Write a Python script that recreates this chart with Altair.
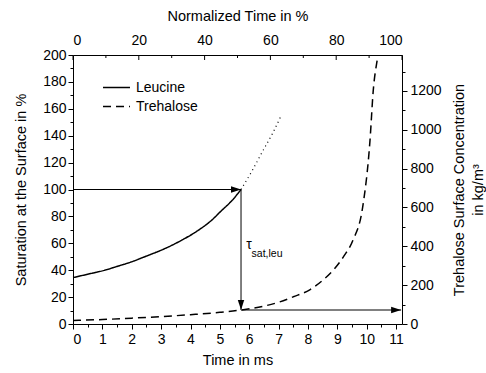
import altair as alt
import pandas as pd

FONT = "Liberation Sans"

# ---- data ----
leu_t = [0, 0.5, 1.08, 1.5, 1.99, 2.5, 3.12, 3.7, 4.26, 4.7, 5.06, 5.4, 5.72]
leu_s = [34.5, 37, 40, 42.8, 46.2, 50.5, 56, 62.3, 69.6, 76.8, 84.4, 91.5, 100]

dot_t = [5.72, 6.1, 6.47, 6.8, 7.1]
dot_s = [100, 114, 129, 142, 155.6]

tre_t = [0, 1, 2, 3, 4, 5, 5.72, 6.5, 7.04, 7.5, 8.06, 8.5, 8.86, 9.22, 9.53, 9.86, 10.11, 10.22, 10.36, 10.4]
tre_c = [18, 23, 30, 38, 48, 60, 72, 92, 114, 140, 176, 225, 277, 349, 431, 601, 944, 1200, 1363, 1400]

series_names = ["Leucine", "Trehalose"]

t_max = 11.2          # time (ms) that corresponds to 100 % normalized time
sat_max = 200
conc_max = 1385

bottom_ticks = [i * 0.5 for i in range(23)]
left_ticks = list(range(0, 201, 10))
right_ticks = list(range(0, 1301, 100))
top_major = [0, 20, 40, 60, 80, 100]
top_minor = [10, 30, 50, 70, 90]

t_sat = 5.72
sat_hi = 100
sat_lo = 10.4

tau_t = [5.9]
tau_y = [56]
sub_t = [6.08]
sub_y = [49.6]

# ---- frames ----
leu_df = pd.DataFrame({"t": leu_t, "v": leu_s, "series": series_names[0]})
dot_df = pd.DataFrame({"t": dot_t, "v": dot_s})
tre_df = pd.DataFrame({"t": tre_t, "v": tre_c, "series": series_names[1]})

xs = alt.Scale(domain=[0, t_max], nice=False, zero=False)
ys = alt.Scale(domain=[0, sat_max], nice=False)
ys2 = alt.Scale(domain=[0, conc_max], nice=False)

dash_scale = alt.Scale(domain=series_names, range=[[1, 0], [8, 5]])

x_axis = alt.Axis(
    title="Time in ms", values=bottom_ticks, labelOverlap=False,
    labelExpr="datum.value % 1 === 0 ? format(datum.value, 'd') : ''",
    tickSize={"condition": {"test": "datum.value % 1 === 0", "value": 5}, "value": 3},
    labelPadding=3, titlePadding=7, grid=False,
)
y_axis = alt.Axis(
    title="Saturation at the Surface in %", values=left_ticks, labelOverlap=False,
    labelExpr="datum.value % 20 === 0 ? datum.label : ''",
    tickSize={"condition": {"test": "datum.value % 20 === 0", "value": 5}, "value": 3},
    labelPadding=2, titlePadding=14, grid=False,
)
y2_axis = alt.Axis(
    title=["Trehalose Surface Concentration", "in kg/m³"], orient="right",
    values=right_ticks, labelOverlap=False, format="d",
    labelExpr="datum.value % 200 === 0 ? datum.label : ''",
    tickSize={"condition": {"test": "datum.value % 200 === 0", "value": 5}, "value": 3},
    labelPadding=3, titlePadding=6, titleAngle=270, titleLineHeight=19, grid=False,
)

legend = alt.Legend(
    title=None, orient="none", legendX=36, legendY=25,
    symbolType="M-2,0H2", symbolSize=182, symbolStrokeWidth=1.5,
    symbolStrokeColor="black", symbolFillColor="transparent",
    labelFontSize=14, labelFont=FONT, labelColor="black", labelOffset=12,
    rowPadding=4, padding=0,
)

NX = alt.X("x:Q", axis=None)
NY = alt.Y("y:Q", axis=None)

leu = alt.Chart(leu_df).mark_line(color="black", strokeWidth=1.5, interpolate="monotone").encode(
    x=alt.X("t:Q", scale=xs, axis=x_axis),
    y=alt.Y("v:Q", scale=ys, axis=y_axis),
    strokeDash=alt.StrokeDash("series:N", scale=dash_scale, legend=legend),
)

dot = alt.Chart(dot_df).mark_line(color="black", strokeWidth=1.2, strokeDash=[1, 3.5], interpolate="monotone").encode(
    x=alt.X("t:Q", axis=None), y=alt.Y("v:Q", axis=None)
)

h_arrow = alt.Chart(pd.DataFrame({"x": [0], "x2": [t_sat], "y": [sat_hi]})).mark_rule(color="black", strokeWidth=1).encode(
    x=NX, x2="x2:Q", y=NY
)
v_arrow = alt.Chart(pd.DataFrame({"x": [t_sat], "y": [sat_hi], "y2": [sat_lo]})).mark_rule(color="black", strokeWidth=1).encode(
    x=NX, y=NY, y2="y2:Q"
)
g_arrow = alt.Chart(pd.DataFrame({"x": [t_sat], "x2": [t_max - 0.03], "y": [sat_lo]})).mark_rule(color="#808080", strokeWidth=2).encode(
    x=NX, x2="x2:Q", y=NY
)

RIGHT_HEAD = "M0,0L-1,-0.32L-1,0.32Z"
DOWN_HEAD = "M0,0L-0.32,-1L0.32,-1Z"

def head(xv, yv, shape):
    return alt.Chart(pd.DataFrame({"x": [xv], "y": [yv]})).mark_point(
        shape=shape, size=400, filled=True, color="black", opacity=1, strokeWidth=0
    ).encode(x=NX, y=NY)

head_r = head(t_sat, sat_hi, RIGHT_HEAD)
head_d = head(t_sat, sat_lo, DOWN_HEAD)
head_g = head(t_max - 0.03, sat_lo, RIGHT_HEAD)

tau = alt.Chart(pd.DataFrame({"x": tau_t, "y": tau_y, "s": ["τ"]})).mark_text(
    align="left", baseline="alphabetic", fontSize=14, font=FONT, color="black"
).encode(x=NX, y=NY, text="s:N")
tau_sub = alt.Chart(pd.DataFrame({"x": sub_t, "y": sub_y, "s": ["sat,leu"]})).mark_text(
    align="left", baseline="alphabetic", fontSize=10.5, font=FONT, color="black"
).encode(x=NX, y=NY, text="s:N")

# top (normalized time) axis drawn on the same time scale
top_df = pd.DataFrame({"t": [p * t_max / 100 for p in top_major]})
top_min_df = pd.DataFrame({"t": [p * t_max / 100 for p in top_minor]})
top_axis = alt.Axis(
    title="Normalized Time in %", orient="top", values=list(top_df["t"]),
    labelExpr=f"format(round(datum.value / {t_max} * 100), 'd')",
    ticks=False, labelPadding=8, titlePadding=10, grid=False, labelOverlap=False,
)
top_maj = alt.Chart(top_df).mark_rule(color="black", strokeWidth=1).encode(
    x=alt.X("t:Q", axis=top_axis), y=alt.value(0), y2=alt.value(5)
)
top_min = alt.Chart(top_min_df).mark_rule(color="black", strokeWidth=1).encode(
    x=alt.X("t:Q", axis=None), y=alt.value(0), y2=alt.value(3)
)

left_group = alt.layer(
    leu, dot, h_arrow, v_arrow, g_arrow, head_r, head_d, head_g, tau, tau_sub, top_maj, top_min
).resolve_axis(x="independent", y="independent")

tre = alt.Chart(tre_df).mark_line(color="black", strokeWidth=1.5, clip=True, interpolate="monotone").encode(
    x=alt.X("t:Q", scale=xs, axis=None),
    y=alt.Y("v:Q", scale=ys2, axis=y2_axis),
    strokeDash=alt.StrokeDash("series:N", scale=dash_scale, legend=legend),
)

chart = alt.layer(left_group, tre).resolve_scale(y="independent").properties(
    width=329, height=269,
    autosize=alt.AutoSizeParams(type="none"),
    padding={"left": 73, "top": 55, "right": 84, "bottom": 49},
    background="white",
).configure_view(stroke=None).configure_axis(
    labelFont=FONT, titleFont=FONT, labelFontSize=14, titleFontSize=14.5,
    titleFontWeight="normal", labelColor="black", titleColor="black",
    domainColor="black", tickColor="black", domainWidth=1, tickWidth=1,
)

chart.save("out.html", embed_options={"renderer": "svg", "actions": False})
